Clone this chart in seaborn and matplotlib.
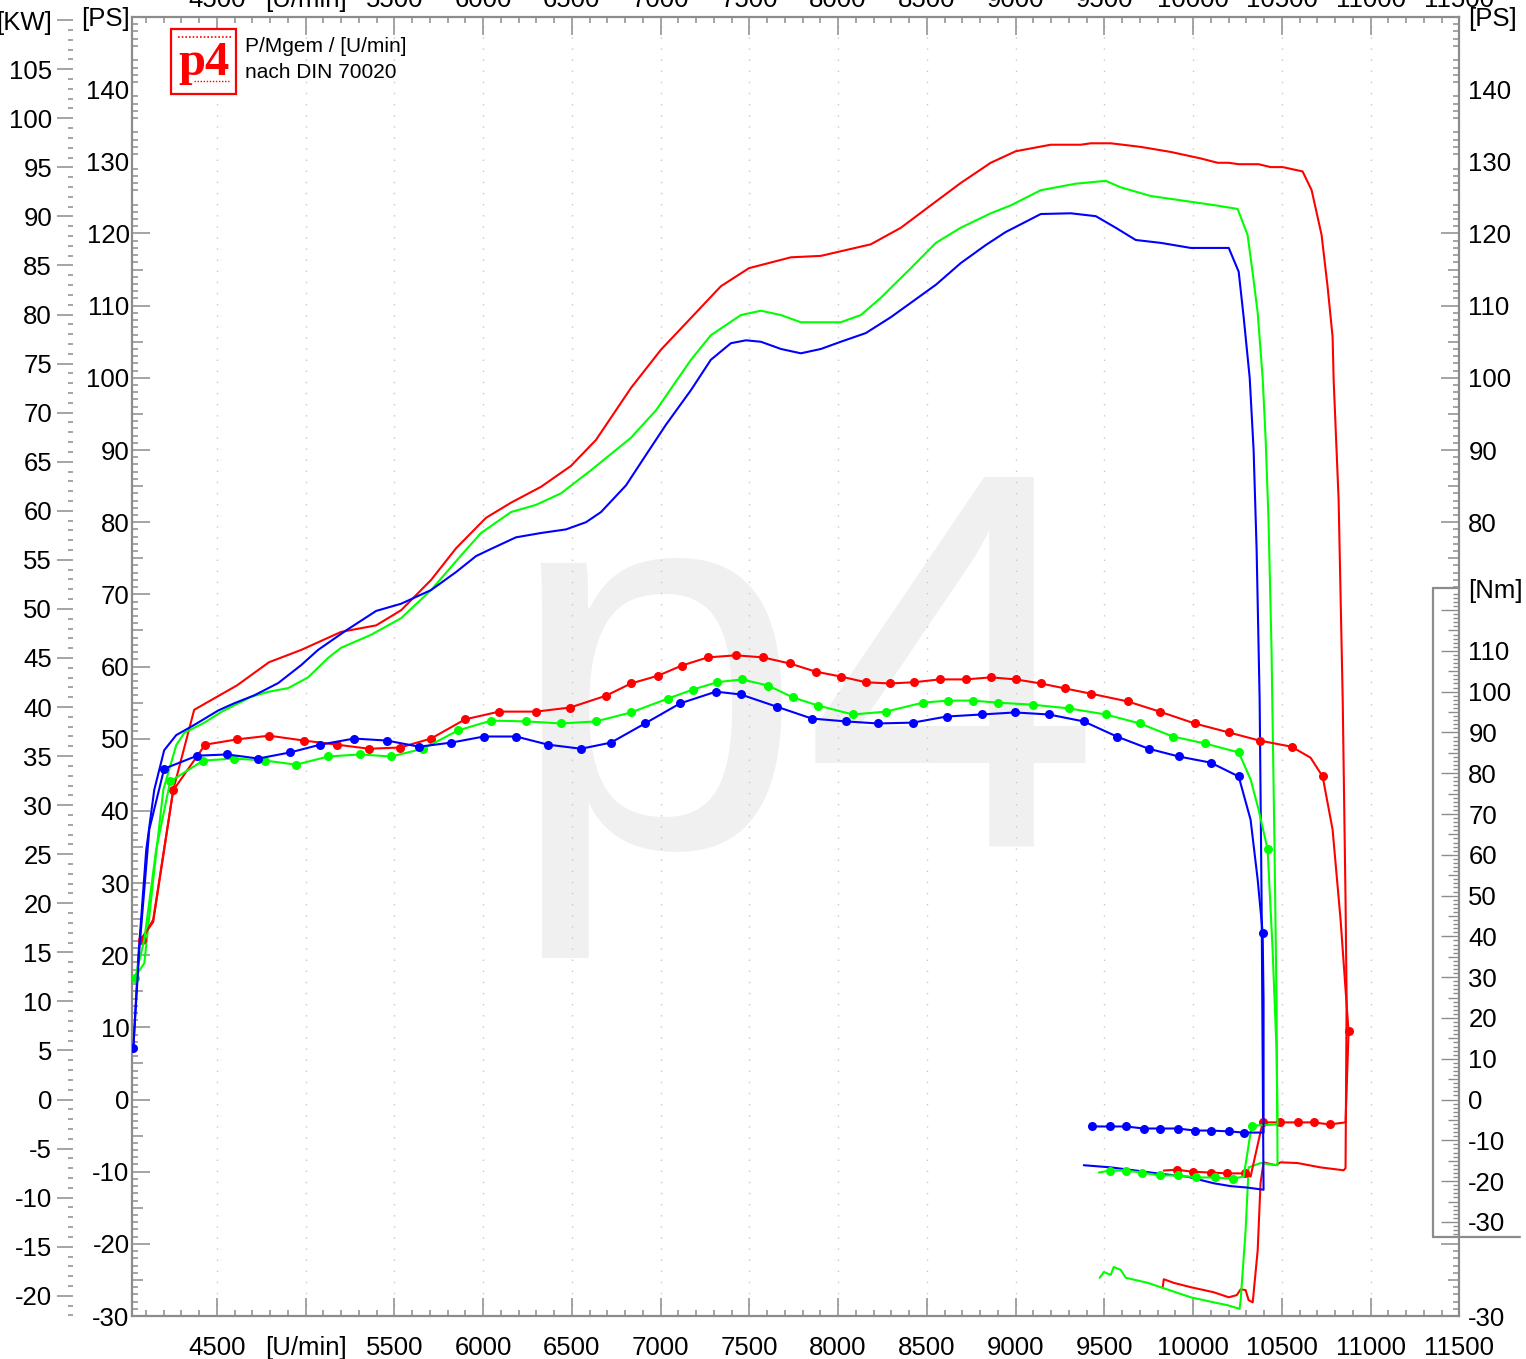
import matplotlib
matplotlib.use("Agg")
import matplotlib.pyplot as plt
import matplotlib.transforms as mtransforms
from matplotlib.patches import Rectangle
from matplotlib.lines import Line2D
from matplotlib.ticker import MultipleLocator, FixedLocator, FuncFormatter
import seaborn as sns

# Leistung [PS] ueber Drehzahl [U/min] (Hochlauf + Schleppverlust)
red_power_rpm = [4068, 4141, 4254, 4372, 4614, 4794, 4975, 5200, 5397, 5538, 5707, 5848, 6016, 6157,
                 6326, 6495, 6636, 6833, 7002, 7171, 7340, 7498, 7734, 7903, 8184, 8354, 8522, 8691,
                 8860, 9001, 9198, 9367, 9424, 9536, 9705, 9874, 10043, 10138, 10201, 10257, 10369,
                 10437, 10505, 10617, 10668, 10724, 10758, 10786, 10792, 10820, 10843, 10859, 10865,
                 10859, 10848, 10718, 10589, 10493, 10465, 10397, 10380, 10364, 10336, 10313, 10296,
                 10268, 10246, 10201, 10116, 9987, 9891, 9835, 9829]
red_power_ps = [22.1, 24.6, 42.9, 54.0, 57.4, 60.6, 62.3, 64.8, 65.7, 67.8, 72.0, 76.4, 80.6, 82.7,
                84.9, 87.8, 91.4, 98.6, 103.9, 108.3, 112.7, 115.2, 116.7, 116.9, 118.5, 120.8, 123.9,
                127.0, 129.8, 131.4, 132.3, 132.3, 132.5, 132.5, 132.0, 131.3, 130.4, 129.8, 129.8,
                129.6, 129.6, 129.2, 129.2, 128.6, 126.0, 119.8, 112.6, 105.7, 99.7, 83.1, 55.4, 27.6,
                13.8, -9.5, -9.8, -9.4, -8.8, -8.7, -9.1, -8.7, -11.6, -20.9, -28.1, -27.8, -26.4,
                -26.3, -27.1, -27.4, -26.7, -26.0, -25.4, -24.9, -26.0]

green_power_rpm = [4034, 4091, 4141, 4198, 4271, 4316, 4428, 4524, 4693, 4789, 4901, 5014, 5127, 5200,
                   5369, 5538, 5707, 5876, 5988, 6157, 6298, 6439, 6608, 6833, 6974, 7171, 7283, 7452,
                   7565, 7678, 7790, 8015, 8128, 8241, 8410, 8551, 8691, 8860, 8973, 9142, 9339, 9508,
                   9592, 9761, 9930, 10127, 10251, 10307, 10336, 10364, 10392, 10409, 10425, 10442,
                   10459, 10470, 10476, 10380, 10313, 10296, 10268, 10262, 10195, 10116, 9987, 9829,
                   9745, 9621, 9592, 9553, 9536, 9497, 9474]
green_power_ps = [16.8, 18.9, 30.4, 42.9, 49.1, 50.8, 52.2, 53.7, 55.8, 56.5, 57.0, 58.5, 61.2, 62.6,
                  64.4, 66.7, 70.6, 75.4, 78.5, 81.4, 82.4, 84.0, 87.2, 91.7, 95.5, 102.5, 105.9, 108.7,
                  109.3, 108.7, 107.7, 107.7, 108.7, 111.1, 115.2, 118.7, 120.8, 122.8, 123.9, 126.0,
                  126.9, 127.3, 126.4, 125.2, 124.6, 123.9, 123.4, 119.8, 114.5, 109.0, 100.0, 91.4,
                  80.3, 62.3, 34.6, 13.8, -9.1, -8.8, -9.4, -18.1, -27.8, -29.0, -28.5, -28.1, -27.4,
                  -26.1, -25.4, -24.7, -23.6, -23.2, -24.3, -23.9, -24.7]

blue_power_rpm = [4029, 4057, 4102, 4147, 4203, 4271, 4372, 4507, 4597, 4710, 4845, 4975, 5070, 5228,
                  5397, 5538, 5707, 5848, 5960, 6045, 6185, 6326, 6467, 6580, 6664, 6805, 6917, 7030,
                  7171, 7283, 7396, 7481, 7565, 7678, 7790, 7903, 8015, 8156, 8297, 8410, 8551, 8691,
                  8832, 8944, 9142, 9311, 9452, 9564, 9677, 9818, 9987, 10043, 10201, 10257, 10285,
                  10319, 10341, 10358, 10375, 10386, 10397, 10307, 10212, 10116, 9970, 9818, 9666,
                  9536, 9384]
blue_power_ps = [6.9, 19.7, 34.6, 42.9, 48.4, 50.5, 51.9, 53.9, 54.9, 56.0, 57.7, 60.2, 62.3, 65.0,
                 67.7, 68.7, 70.6, 73.1, 75.3, 76.3, 77.9, 78.5, 79.0, 80.0, 81.4, 85.1, 89.3, 93.5,
                 98.3, 102.5, 104.8, 105.2, 105.0, 104.0, 103.4, 104.0, 105.0, 106.2, 108.4, 110.4,
                 112.9, 115.9, 118.4, 120.2, 122.7, 122.8, 122.4, 120.8, 119.1, 118.7, 118.0, 118.0,
                 118.0, 114.7, 108.4, 100.0, 90.0, 76.2, 55.4, 27.6, -12.5, -12.2, -12.0, -11.6, -10.7,
                 -10.3, -9.8, -9.4, -9.1]

# Drehmoment [Nm] ueber Drehzahl [U/min]
red_torque_rpm = [4079, 4141, 4254, 4434, 4614, 4794, 4992, 5177, 5357, 5532, 5707, 5898, 6090, 6298,
                  6490, 6692, 6833, 6985, 7120, 7266, 7424, 7576, 7728, 7874, 8015, 8156, 8292, 8427,
                  8573, 8719, 8860, 9001, 9142, 9277, 9424, 9632, 9812, 10009, 10201, 10375, 10555,
                  10662, 10730, 10786, 10831, 10876, 10859, 10769, 10679, 10589, 10487, 10392, 10324,
                  10290, 10190, 10099, 9998, 9908, 9835]
red_torque_nm = [39.2, 44.1, 75.8, 87.0, 88.3, 89.2, 88.0, 87.0, 86.0, 86.3, 88.5, 93.2, 95.1, 95.1,
                 96.1, 99.0, 102.0, 103.9, 106.4, 108.4, 108.9, 108.4, 106.9, 104.9, 103.7, 102.3,
                 102.0, 102.3, 103.0, 103.0, 103.5, 103.0, 102.0, 100.8, 99.5, 97.6, 95.1, 92.2, 90.0,
                 88.0, 86.5, 83.8, 79.2, 66.2, 44.1, 16.7, -5.6, -6.1, -5.6, -5.6, -5.6, -5.6, -18.9,
                 -18.1, -18.1, -17.9, -17.7, -17.2, -17.4]

green_torque_rpm = [4040, 4091, 4158, 4237, 4423, 4597, 4772, 4947, 5127, 5307, 5481, 5662, 5859, 6045,
                    6242, 6439, 6636, 6833, 7041, 7182, 7317, 7458, 7605, 7745, 7886, 8083, 8269, 8478,
                    8618, 8759, 8899, 9096, 9299, 9508, 9700, 9886, 10066, 10257, 10324, 10369, 10420,
                    10448, 10470, 10476, 10330, 10285, 10223, 10122, 10015, 9914, 9812, 9711, 9621,
                    9531, 9469]
green_torque_nm = [29.9, 39.2, 61.3, 78.0, 83.1, 83.6, 83.1, 82.1, 84.1, 84.6, 84.1, 86.0, 90.5, 92.9,
                   92.7, 92.2, 92.7, 94.9, 98.3, 100.5, 102.3, 103.0, 101.5, 98.6, 96.6, 94.4, 95.1,
                   97.3, 97.8, 97.8, 97.3, 96.8, 95.9, 94.4, 92.2, 89.0, 87.3, 85.1, 78.5, 71.1, 61.3,
                   36.8, 12.3, -6.1, -6.4, -18.9, -19.4, -19.1, -19.1, -18.6, -18.6, -17.9, -17.4,
                   -17.4, -17.9]

blue_torque_rpm = [4029, 4063, 4119, 4203, 4389, 4558, 4733, 4913, 5082, 5273, 5459, 5639, 5820, 6005,
                   6185, 6366, 6552, 6720, 6912, 7109, 7312, 7452, 7655, 7852, 8044, 8224, 8421, 8612,
                   8809, 8995, 9187, 9384, 9570, 9750, 9919, 10099, 10257, 10324, 10364, 10392, 10397,
                   10397, 10285, 10201, 10099, 10009, 9914, 9812, 9722, 9621, 9531, 9430]
blue_torque_nm = [12.7, 36.8, 66.2, 81.1, 84.3, 84.6, 83.6, 85.1, 87.0, 88.5, 88.0, 86.5, 87.5, 89.0,
                  89.0, 87.0, 86.0, 87.5, 92.2, 97.1, 100.0, 99.3, 96.3, 93.4, 92.7, 92.2, 92.4, 93.9,
                  94.4, 94.9, 94.4, 92.7, 89.0, 86.0, 84.1, 82.6, 79.2, 68.6, 53.9, 40.9, 24.5, -8.1,
                  -8.1, -7.8, -7.6, -7.6, -7.1, -7.1, -7.1, -6.6, -6.6, -6.6]

RED, GREEN, BLUE = '#ff0000', '#00ff00', '#0000ff'
GRAY = '#8c8c8c'
FS = 18.5
PS_PER_KW = 1.35962
PS_PER_NM = 0.5652   # Nm-Skala relativ zur PS-Skala (0 liegt auf gleicher Hoehe)

sns.set_theme(style='white')
plt.rcParams['font.family'] = ['Liberation Sans', 'DejaVu Sans']

fig = plt.figure(figsize=(15.26, 13.59), dpi=100)
ax = fig.add_axes([0.0863, 0.0316, 0.8700, 0.9559])
kw = ax.twinx()
ps_r = ax.twinx()
top = ax.twiny()
nm = ax.twinx()

# Wasserzeichen
ax.text(505 / 1526, 512 / 1359, 'p4', transform=fig.transFigure, fontsize=386,
        color='#f0f0f0', ha='left', va='baseline', zorder=0.1)

# Kurven
for rpm, ps, col in [(red_power_rpm, red_power_ps, RED),
                     (green_power_rpm, green_power_ps, GREEN),
                     (blue_power_rpm, blue_power_ps, BLUE)]:
    sns.lineplot(x=rpm, y=ps, ax=ax, color=col, linewidth=1.5, sort=False, estimator=None)

# Punkte ohne Messmarker (steile Uebergaenge)
plain = {RED: [1, 41, 43, 44, 46, 52, 58],
         GREEN: [1, 2, 38, 39, 41, 42, 43, 45, 54],
         BLUE: [1, 2, 37, 38, 40, 41]}
for rpm, tq, col in [(red_torque_rpm, red_torque_nm, RED),
                     (green_torque_rpm, green_torque_nm, GREEN),
                     (blue_torque_rpm, blue_torque_nm, BLUE)]:
    marks = [i for i in range(len(rpm)) if i not in plain[col]]
    sns.lineplot(x=rpm, y=tq, ax=nm, color=col, linewidth=1.5, sort=False, estimator=None,
                 marker='o', markersize=6.5, markeredgewidth=0, markeredgecolor=col, markevery=marks)

# Achsenbereiche
ax.set_xlim(4020, 11500)
top.set_xlim(4020, 11500)
ax.set_ylim(-30, 150)
ps_r.set_ylim(-30, 150)
kw.set_ylim(-30 / PS_PER_KW, 150 / PS_PER_KW)
nm.set_ylim(-30 / PS_PER_NM, 150 / PS_PER_NM)

ax.grid(False)
for a in (kw, ps_r, top, nm):
    a.grid(False)
    for s in a.spines.values():
        s.set_visible(False)
ax.xaxis.grid(True, which='major', color='#c8c8c8', linestyle=(0, (1, 7)), linewidth=1.0)
for s in ax.spines.values():
    s.set_color(GRAY)
    s.set_linewidth(1.6)


def rpm_label(v, pos):
    return '[U/min]' if round(v) == 5000 else f'{int(round(v))}'


def ps_label(v, pos):
    v = int(round(v))
    if v == 150:
        return '[PS]'
    return str(v) if v % 10 == 0 else ''


def ps_right_label(v, pos):
    v = int(round(v))
    if v == 150:
        return '[PS]'
    if v % 10 == 0 and (v >= 80 or v == -30):
        return str(v)
    return ''


def kw_label(v, pos):
    v = int(round(v))
    return '[KW]' if v == 110 else str(v)


def nm_label(v, pos):
    if v > 124:
        return '[Nm]'
    v = int(round(v))
    return str(v) if v % 10 == 0 and v <= 110 else ''


def mid_ticks(axis, length):
    # mittlere Striche bei 5er-Werten
    for loc, tick in zip(axis.get_majorticklocs(), axis.get_major_ticks()):
        if abs(loc) > 124:
            tick.tick1line.set_markersize(0)
            tick.tick2line.set_markersize(0)
        elif int(round(loc)) % 10 != 0:
            tick.tick1line.set_markersize(length)
            tick.tick2line.set_markersize(length)


# X-Achse unten und oben
for a, is_top in [(ax, False), (top, True)]:
    a.xaxis.set_major_locator(MultipleLocator(500))
    a.xaxis.set_minor_locator(MultipleLocator(100))
    a.xaxis.set_major_formatter(FuncFormatter(rpm_label))
    a.tick_params(axis='x', which='both', direction='in', bottom=not is_top, top=is_top,
                  labelbottom=not is_top, labeltop=is_top, color=GRAY, width=1.1,
                  labelsize=FS, labelcolor='black', pad=3.3 if is_top else 14)
    a.tick_params(axis='x', which='major', length=13)
    a.tick_params(axis='x', which='minor', length=4)

# PS links
ax.yaxis.set_major_locator(MultipleLocator(5))
ax.yaxis.set_minor_locator(MultipleLocator(1))
ax.yaxis.set_major_formatter(FuncFormatter(ps_label))
ax.tick_params(axis='y', which='both', direction='in', left=True, right=False, labelleft=True,
               color=GRAY, width=1.1, labelsize=FS, labelcolor='black', pad=1.5)
ax.tick_params(axis='y', which='major', length=13)
ax.tick_params(axis='y', which='minor', length=4)
mid_ticks(ax.yaxis, 8)

# PS rechts
ps_r.yaxis.set_major_locator(MultipleLocator(5))
ps_r.yaxis.set_minor_locator(MultipleLocator(1))
ps_r.yaxis.set_major_formatter(FuncFormatter(ps_right_label))
ps_r.tick_params(axis='y', which='both', direction='in', left=False, right=True, labelleft=False,
                 labelright=True, color=GRAY, width=1.1, labelsize=FS, labelcolor='black', pad=6.5)
ps_r.tick_params(axis='y', which='major', length=13)
ps_r.tick_params(axis='y', which='minor', length=4)
mid_ticks(ps_r.yaxis, 8)

# KW ganz links
kw.yaxis.tick_left()
kw.yaxis.set_label_position('left')
kw.spines['left'].set_position(('outward', 42.3))
kw.yaxis.set_major_locator(MultipleLocator(5))
kw.yaxis.set_minor_locator(MultipleLocator(1))
kw.yaxis.set_major_formatter(FuncFormatter(kw_label))
kw.tick_params(axis='y', which='both', direction='out', left=True, right=False, labelleft=True,
               labelright=False, color=GRAY, width=1.1, labelsize=FS, labelcolor='black', pad=3.5)
kw.tick_params(axis='y', which='major', length=11.5)
kw.tick_params(axis='y', which='minor', length=3.6)

# Nm-Skala im Kasten rechts
trans = mtransforms.blended_transform_factory(nm.transAxes, nm.transData)
nm.add_patch(Rectangle((0.9802, -33.8), 0.075, 159.3, transform=trans, facecolor='white',
                       edgecolor='none', clip_on=False, zorder=0.05))
for xs, ys in [([0.9802, 0.9802], [-33.8, 125.5]), ([0.9802, 1.0], [125.5, 125.5]),
               ([0.9802, 1.0457], [-33.8, -33.8])]:
    nm.add_line(Line2D(xs, ys, transform=trans, color=GRAY, linewidth=1.6, clip_on=False,
                       zorder=0.06))
nm.spines['right'].set_visible(True)
nm.spines['right'].set_color(GRAY)
nm.spines['right'].set_linewidth(1.6)
nm.spines['right'].set_bounds(-33.8, 125.5)
nm.yaxis.set_major_locator(FixedLocator(list(range(-30, 121, 5)) + [125.3]))
nm.yaxis.set_minor_locator(FixedLocator(list(range(-33, 125))))
nm.yaxis.set_major_formatter(FuncFormatter(nm_label))
nm.tick_params(axis='y', which='both', direction='in', left=False, right=True, labelleft=False,
               labelright=True, color=GRAY, width=1.0, labelsize=FS, labelcolor='black', pad=6.5)
nm.tick_params(axis='y', which='major', length=13)
nm.tick_params(axis='y', which='minor', length=4)
mid_ticks(nm.yaxis, 8)
nm.set_ylim(-30 / PS_PER_NM, 150 / PS_PER_NM)

# Logo und Beschriftung oben links
fig.add_artist(Rectangle((171 / 1526, 1265 / 1359), 65 / 1526, 65 / 1359, transform=fig.transFigure,
                         facecolor='white', edgecolor=RED, linewidth=1.6))
fig.text(204 / 1526, 1284 / 1359, 'p4', family=['Liberation Serif'], fontweight='bold',
         fontsize=35, color=RED, ha='center', va='baseline')
fig.add_artist(Line2D([178 / 1526, 232 / 1526], [1322 / 1359, 1322 / 1359], transform=fig.transFigure,
                      color=RED, linewidth=1.2, linestyle=(0, (1, 1.2))))
fig.add_artist(Line2D([194 / 1526, 230 / 1526], [1278 / 1359, 1278 / 1359], transform=fig.transFigure,
                      color=RED, linewidth=1.0, linestyle=(0, (1, 1.2))))
fig.text(245 / 1526, 1312 / 1359, 'P/Mgem / [U/min]', fontsize=15, color='black',
         ha='left', va='center')
fig.text(245 / 1526, 1286 / 1359, 'nach DIN 70020', fontsize=15, color='black',
         ha='left', va='center')

fig.savefig('out.png', dpi=100)
